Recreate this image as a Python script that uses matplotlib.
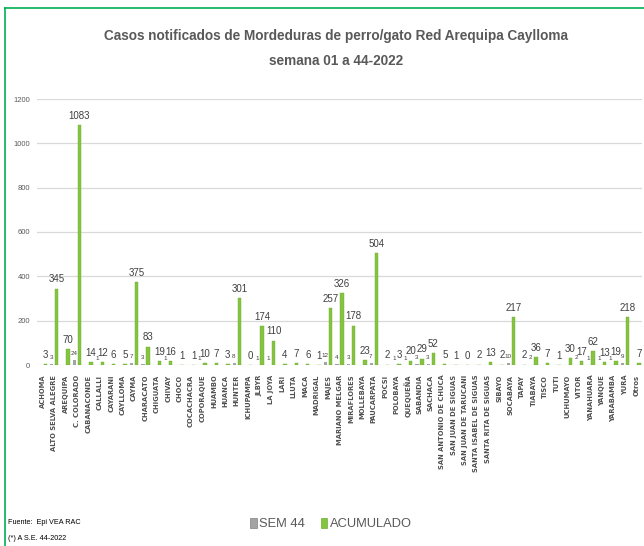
import matplotlib
matplotlib.use("Agg")
import matplotlib.pyplot as plt
import numpy as np
from matplotlib.lines import Line2D
from matplotlib.patches import Rectangle

SANS = ["Liberation Sans", "DejaVu Sans"]

districts = [
    "ACHOMA", "ALTO SELVA ALEGRE", "AREQUIPA", "C. COLORADO", "CABANACONDE",
    "CALLALLI", "CAYARANI", "CAYLLOMA", "CAYMA", "CHARACATO", "CHIGUATA",
    "CHIVAY", "CHOCO", "COCACHACRA", "COPORAQUE", "HUAMBO", "HUANCA", "HUNTER",
    "ICHUPAMPA", "JLBYR", "LA JOYA", "LARI", "LLUTA", "MACA", "MADRIGAL",
    "MAJES", "MARIANO MELGAR", "MIRAFLORES", "MOLLEBAYA", "PAUCARPATA", "POCSI",
    "POLOBAYA", "QUEQUEÑA", "SABANDIA", "SACHACA", "SAN ANTONIO DE CHUCA",
    "SAN JUAN DE SIGUAS", "SAN JUAN DE TARUCANI", "SANTA ISABEL DE SIGUAS",
    "SANTA RITA DE SIGUAS", "SIBAYO", "SOCABAYA", "TAPAY", "TIABAYA", "TISCO",
    "TUTI", "UCHUMAYO", "VITOR", "YANAHUARA", "YANQUE", "YARABAMBA", "YURA",
    "Otros",
]

acumulado = [
    3, 345, 70, 1083, 14, 12, 6, 5, 375, 83, 19, 16, 1, 1, 10, 7, 3, 301, 0,
    174, 110, 4, 7, 6, 1, 257, 326, 178, 23, 504, 2, 3, 20, 29, 52, 5, 1, 0,
    2, 13, 2, 217, 2, 36, 7, 1, 30, 17, 62, 13, 19, 218, 7,
]

# None = no value reported for week 44
sem44 = [
    None, 3, None, 24, None, 1, None, None, 7, 3, None, 1, None, None, 1, None,
    None, 8, None, 1, 1, None, None, None, None, 12, 4, 3, None, 7, None, 1,
    1, 3, 3, None, None, None, None, None, None, 10, None, 2, None, None, None,
    2, 1, 1, 1, 9, None,
]

GREEN = "#84c441"
GRAY = "#a3a3a3"
TEXT = "#404040"

x = np.arange(len(districts))
sem_vals = np.array([np.nan if v is None else v for v in sem44], dtype=float)

fig = plt.figure(figsize=(6.44, 5.46), dpi=100)
ax = fig.add_axes([37 / 644, 1 - 365 / 546, 605 / 644, 266 / 546])

w = 0.3
ax.bar(x - 0.22, np.nan_to_num(sem_vals), width=w, color=GRAY, zorder=3)
ax.bar(x + 0.22, acumulado, width=w, color=GREEN, edgecolor="#6fae30",
       linewidth=0.3, zorder=3)

for xi, v in zip(x, sem_vals):
    if not np.isnan(v):
        ax.annotate(f"{int(v)}", (xi - 0.25, v), xytext=(0, 3),
                    textcoords="offset points", ha="center", va="bottom",
                    fontsize=4.5, family=SANS, color=TEXT)
for xi, v in zip(x, acumulado):
    ax.annotate(f"{v}", (xi + 0.22, v), xytext=(0, 3),
                textcoords="offset points", ha="center", va="bottom",
                fontsize=7, family=SANS, color=TEXT)

ax.set_xlim(-0.5, len(districts) - 0.5)
ax.set_ylim(0, 1200)
ax.set_yticks(range(0, 1201, 200))
ax.grid(axis="y", color="#d9d9d9", linewidth=0.9, zorder=0)
ax.set_axisbelow(True)
for s in ax.spines.values():
    s.set_visible(False)
ax.tick_params(axis="both", length=0)
ax.tick_params(axis="y", labelsize=5.5, labelcolor="#595959", pad=5)
for lbl in ax.get_yticklabels():
    lbl.set_family(SANS)
ax.set_xticks(x)
ax.set_xticklabels(districts, rotation=90, fontsize=4.9, fontweight="bold",
                   color="#505050", family="DejaVu Sans")
ax.tick_params(axis="x", pad=7)

fig.text(336 / 644, 1 - 36 / 546,
         "Casos notificados de Mordeduras de perro/gato Red Arequipa Caylloma",
         ha="center", va="center", fontsize=9.8, fontweight="bold",
         family=SANS, color="#595959")
fig.text(336 / 644, 1 - 61 / 546, "semana 01 a 44-2022", ha="center",
         va="center", fontsize=9.8, fontweight="bold", family=SANS,
         color="#595959")

handles = [
    Rectangle((0, 0), 1, 1, facecolor=GRAY, edgecolor="#808080", linewidth=0.5),
    Rectangle((0, 0), 1, 1, facecolor=GREEN, edgecolor="#6fae30", linewidth=0.5),
]
fig.legend(handles, ["SEM 44", "ACUMULADO"], loc="center",
           bbox_to_anchor=(331 / 644, 1 - 524 / 546), ncol=2, frameon=False,
           prop={"family": SANS, "size": 9.3}, handlelength=0.5,
           handleheight=0.9, handletextpad=0.2, columnspacing=1.2,
           labelcolor="#595959")

fig.text(8 / 644, 1 - 522 / 546, "Fuente:  Epi VEA RAC", ha="left", va="center",
         fontsize=5.2, family=SANS, color="black")
fig.text(8 / 644, 1 - 538 / 546, "(*) A S.E. 44-2022", ha="left", va="center",
         fontsize=5.2, family=SANS, color="black")

# green frame around the picture (top and left edges visible)
fig.add_artist(Line2D([5 / 644, 1], [1 - 8 / 546, 1 - 8 / 546],
                      transform=fig.transFigure, color="#00b050", linewidth=1.2))
fig.add_artist(Line2D([5 / 644, 5 / 644], [0, 1 - 8 / 546],
                      transform=fig.transFigure, color="#00b050", linewidth=1.2))

fig.savefig("out.png", dpi=100)
